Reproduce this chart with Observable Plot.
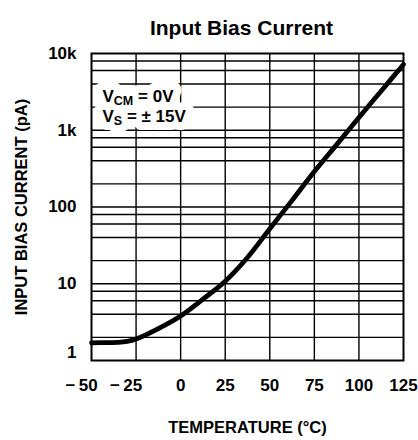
<!DOCTYPE html>
<html><head><meta charset="utf-8">
<script src="https://cdn.jsdelivr.net/npm/d3@7"></script>
<script src="https://cdn.jsdelivr.net/npm/@observablehq/plot@0.6"></script>
<style>body{margin:0;background:#fff}</style>
</head><body><div id="chart"></div>
<script>
const temperatures = [-50, -40, -35, -30, -25, -12.5, 0, 12.5, 25, 37.5, 50, 62.5, 75, 87.5, 100, 112.5, 125];
const currents = [1.7, 1.71, 1.72, 1.77, 1.9, 2.6, 3.8, 6.3, 10.8, 22, 52, 122, 290, 650, 1470, 3250, 7200];
const xTicksPos = [0, 25, 50, 75, 100, 125];
const xTicksNeg = [-50, -25];
const xGrid = [-25, 0, 25, 50, 75, 100];
const yTicksUpper = [10, 100, 1000, 10000];
const yTicksLower = [1];
const yTickLabels = {1: "1", 10: "10", 100: "100", 1000: "1k", 10000: "10k"};
const yGrid = [2, 4, 6, 8, 10, 20, 40, 60, 80, 100, 200, 400, 600, 800, 1000, 2000, 4000, 6000, 8000];
const titleText = "Input Bias Current";
const xLabel = "TEMPERATURE (°C)";
const yLabel = "INPUT BIAS CURRENT (pA)";
const annoLine1 = ["V", "CM", " = 0V"];
const annoLine2 = ["V", "S", " = ± 15V"];

const data = temperatures.map((t, i) => ({t, c: currents[i]}));
const font = "'Liberation Sans', Arial, Helvetica, sans-serif";
const haloStyle = {fill: "white", stroke: "white", strokeWidth: 16, strokeLinejoin: "round"};
const annoPos = [{line: annoLine1, dy: 36}, {line: annoLine2, dy: 56}];

const annoMarks = [];
for (const a of annoPos) {
  annoMarks.push(Plot.text([a.line.join("")], {text: d => d, frameAnchor: "top-left", textAnchor: "start", dx: 11, dy: a.dy, fontSize: 17, ...haloStyle}));
}
for (const a of annoPos) {
  annoMarks.push(Plot.text([a.line.join("")], {text: d => d, frameAnchor: "top-left", textAnchor: "start", dx: 11, dy: a.dy, fontSize: 17, fill: "black"}));
}

const chart = Plot.plot({
  width: 418, height: 440,
  marginTop: 53, marginRight: 15, marginBottom: 80, marginLeft: 91,
  style: {fontFamily: font, fontWeight: "bold", fontSize: "17px", color: "black", background: "white", overflow: "visible"},
  x: {domain: [-50, 125]},
  y: {type: "log", domain: [1, 10000]},
  marks: [
    Plot.ruleY(yGrid, {stroke: "black", strokeWidth: 1.4}),
    Plot.ruleX(xGrid, {stroke: "black", strokeWidth: 1.4}),
    ...annoMarks,
    Plot.frame({stroke: "black", strokeWidth: 2}),
    Plot.line(data, {x: "t", y: "c", curve: "catmull-rom", stroke: "black", strokeWidth: 4.8}),
    Plot.axisY(yTicksUpper, {tickSize: 0, tickPadding: 15, tickFormat: d => yTickLabels[d], fontSize: 17, label: null}),
    Plot.axisY(yTicksLower, {tickSize: 0, tickPadding: 15, dy: -8, tickFormat: d => yTickLabels[d], fontSize: 17, label: null}),
    Plot.axisX(xTicksPos, {tickSize: 0, tickPadding: 18, fontSize: 17, label: null}),
    Plot.axisX(xTicksNeg, {tickSize: 0, tickPadding: 18, dx: -10, fontSize: 17, tickFormat: d => "\u2212\u2009" + Math.abs(d), label: null}),
    Plot.text([titleText], {text: d => d, frameAnchor: "top", dx: -6, dy: -33, fontSize: 21}),
    Plot.text([yLabel], {text: d => d, frameAnchor: "left", textAnchor: "middle", dx: -70, rotate: -90, fontSize: 16.5}),
    Plot.text([xLabel], {text: d => d, frameAnchor: "bottom", dy: 72, fontSize: 16.5})
  ]
});
document.getElementById("chart").appendChild(chart);

// subscripts in the annotation
for (const parts of [annoLine1, annoLine2]) {
  const full = parts.join("");
  d3.select(chart).selectAll("text").filter(function() { return this.textContent === full; }).each(function() {
    const t = d3.select(this);
    t.text(null);
    t.append("tspan").text(parts[0]);
    t.append("tspan").attr("font-size", 12.5).attr("dy", 3).text(parts[1]);
    t.append("tspan").attr("dy", -3).text(parts[2]);
  });
}
</script>
</body></html>
